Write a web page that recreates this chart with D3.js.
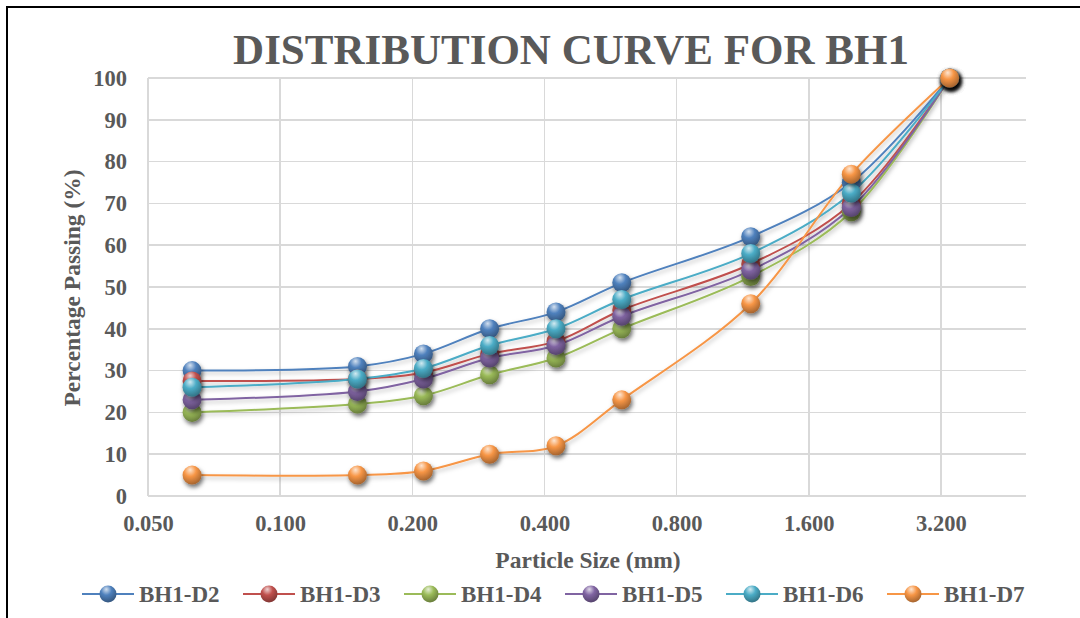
<!DOCTYPE html>
<html lang="en">
<head>
    <meta charset="UTF-8">
    <title>Distribution Curve for BH1</title>
    <style type="text/css">
        body {
            margin: 0;
            background-color: #fff;
        }
        svg text {
            font-family: "Times New Roman", "Liberation Serif", Times, serif;
            font-weight: bold;
            fill: #595959;
        }
        .grid line {
            stroke: #d9d9d9;
            stroke-width: 1.5;
            shape-rendering: crispEdges;
        }
    </style>
</head>
<body>
<div id="chart"></div>
<script type="text/javascript" src="https://d3js.org/d3.v7.min.js"></script>
<script type="text/javascript">
    // sieve sizes (mm)
    var sizes = [0.063, 0.15, 0.212, 0.3, 0.425, 0.6, 1.18, 2.0, 3.35];

    var names = ["BH1-D2", "BH1-D3", "BH1-D4", "BH1-D5", "BH1-D6", "BH1-D7"];
    var colors = ["#4F81BD", "#C0504D", "#9BBB59", "#8064A2", "#4BACC6", "#F79646"];

    // percentage passing per borehole sample
    var d2 = [30, 31, 34, 40, 44, 51, 62, 75, 100];
    var d3v = [27.5, 28, 29.5, 34, 37, 44.5, 55.5, 70, 100];
    var d4 = [20, 22, 24, 29, 33, 40, 52.5, 68, 100];
    var d5 = [23, 25, 28, 33, 36, 43, 54, 69, 100];
    var d6 = [26, 28, 30.5, 36, 40, 47, 58, 72.5, 100];
    var d7 = [5, 5, 6, 10, 12, 23, 46, 77, 100];

    var xTicks = [0.05, 0.1, 0.2, 0.4, 0.8, 1.6, 3.2];
    var yTicks = [0, 10, 20, 30, 40, 50, 60, 70, 80, 90, 100];

    var series = [d2, d3v, d4, d5, d6, d7];

    var W = 1080, H = 618;
    var pLeft = 148, pRight = 1026, pTop = 78, pBottom = 496;
    var serif = '"Times New Roman", "Liberation Serif", Times, serif';

    var svg = d3.select("#chart").append("svg")
        .attr("width", W)
        .attr("height", H);

    var defs = svg.append("defs");

    var shadow = defs.append("filter")
        .attr("id", "shadow")
        .attr("x", "-50%").attr("y", "-50%")
        .attr("width", "200%").attr("height", "200%");
    shadow.append("feDropShadow")
        .attr("dx", 1.5).attr("dy", 3)
        .attr("stdDeviation", 2)
        .attr("flood-color", "#000")
        .attr("flood-opacity", 0.55);

    var lineShadow = defs.append("filter")
        .attr("id", "lineShadow")
        .attr("x", "-10%").attr("y", "-10%")
        .attr("width", "120%").attr("height", "120%");
    lineShadow.append("feDropShadow")
        .attr("dx", 1).attr("dy", 2.5)
        .attr("stdDeviation", 2)
        .attr("flood-color", "#000")
        .attr("flood-opacity", 0.25);

    colors.forEach(function (c, i) {
        var g = defs.append("radialGradient")
            .attr("id", "ball" + i)
            .attr("cx", "40%").attr("cy", "30%")
            .attr("r", "70%")
            .attr("fx", "40%").attr("fy", "22%");
        g.append("stop").attr("offset", "0%").attr("stop-color", d3.interpolateRgb(c, "#fff")(0.75));
        g.append("stop").attr("offset", "45%").attr("stop-color", c);
        g.append("stop").attr("offset", "100%").attr("stop-color", d3.color(c).darker(1.1));
    });

    // outer frame
    svg.append("rect")
        .attr("x", 7).attr("y", 7)
        .attr("width", 1200).attr("height", 800)
        .attr("fill", "none")
        .attr("stroke", "#000")
        .attr("stroke-width", 2);

    var x = d3.scaleLog()
        .base(2)
        .domain([0.05, 5])
        .range([pLeft, pRight]);

    var y = d3.scaleLinear()
        .domain([0, 100])
        .range([pBottom, pTop]);

    var grid = svg.append("g").attr("class", "grid");

    grid.selectAll(".h")
        .data(yTicks)
        .enter().append("line")
        .attr("x1", pLeft).attr("x2", pRight)
        .attr("y1", function (d) { return y(d); })
        .attr("y2", function (d) { return y(d); });

    grid.selectAll(".v")
        .data(xTicks)
        .enter().append("line")
        .attr("x1", function (d) { return x(d); })
        .attr("x2", function (d) { return x(d); })
        .attr("y1", pTop).attr("y2", pBottom);

    // axes (labels only)
    var yAxis = d3.axisLeft(y).tickValues(yTicks).tickSize(0).tickPadding(21);
    var xAxis = d3.axisBottom(x).tickValues(xTicks).tickSize(0).tickPadding(19)
        .tickFormat(d3.format(".3f"));

    var gy = svg.append("g").attr("transform", "translate(" + pLeft + ",0)").call(yAxis);
    var gx = svg.append("g").attr("transform", "translate(0," + pBottom + ")").call(xAxis);
    [gx, gy].forEach(function (g) {
        g.attr("font-family", null).attr("font-size", null);
        g.select(".domain").remove();
        g.selectAll("text")
            .style("font-family", serif)
            .style("font-weight", "bold")
            .style("font-size", "22.5px")
            .style("fill", "#595959");
    });

    // lines
    var line = d3.line()
        .x(function (d, i) { return x(sizes[i]); })
        .y(function (d) { return y(d); })
        .curve(d3.curveCatmullRom.alpha(0.5));

    svg.append("g")
        .attr("filter", "url(#lineShadow)")
        .selectAll("path")
        .data(series)
        .enter().append("path")
        .attr("d", line)
        .attr("fill", "none")
        .attr("stroke", function (d, i) { return colors[i]; })
        .attr("stroke-width", 2);

    // sphere markers
    series.forEach(function (s, i) {
        svg.append("g")
            .attr("filter", "url(#shadow)")
            .selectAll("circle")
            .data(s)
            .enter().append("circle")
            .attr("cx", function (d, j) { return x(sizes[j]); })
            .attr("cy", function (d) { return y(d); })
            .attr("r", 9.5)
            .attr("fill", "url(#ball" + i + ")");
    });

    // title
    svg.append("text")
        .attr("x", 571).attr("y", 64)
        .attr("text-anchor", "middle")
        .style("font-size", "43px")
        .text("DISTRIBUTION CURVE FOR BH1");

    svg.append("text")
        .attr("x", 588).attr("y", 568)
        .attr("text-anchor", "middle")
        .style("font-size", "23.5px")
        .text("Particle Size (mm)");

    svg.append("text")
        .attr("transform", "translate(80,288) rotate(-90)")
        .attr("text-anchor", "middle")
        .style("font-size", "23.5px")
        .text("Percentage Passing (%)");

    // legend
    var legend = svg.append("g").attr("transform", "translate(0,594)");
    var items = legend.selectAll("g")
        .data(names)
        .enter().append("g")
        .attr("transform", function (d, i) { return "translate(" + (82 + i * 161) + ",0)"; });

    items.append("line")
        .attr("x1", 0).attr("x2", 52)
        .attr("y1", 0).attr("y2", 0)
        .attr("stroke", function (d, i) { return colors[i]; })
        .attr("stroke-width", 2);

    items.append("circle")
        .attr("cx", 26).attr("cy", 0)
        .attr("r", 8.5)
        .attr("fill", function (d, i) { return "url(#ball" + i + ")"; });

    items.append("text")
        .attr("x", 57).attr("y", 8)
        .style("font-size", "23px")
        .text(function (d) { return d; });
</script>
</body>
</html>
